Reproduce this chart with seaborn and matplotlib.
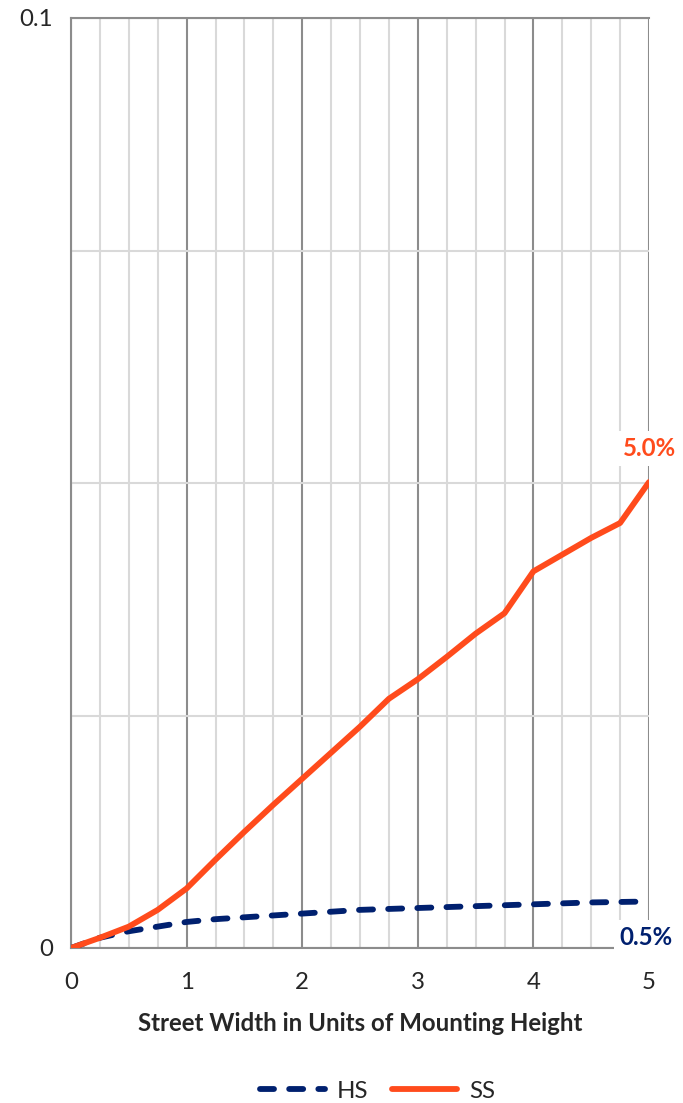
import numpy as np
import pandas as pd
import seaborn as sns
import matplotlib.pyplot as plt
from matplotlib.ticker import MultipleLocator, FixedLocator

# street width in units of mounting height
width = [0, 0.25, 0.5, 0.75, 1, 1.25, 1.5, 1.75, 2, 2.25, 2.5,
         2.75, 3, 3.25, 3.5, 3.75, 4, 4.25, 4.5, 4.75, 5]
hs = [0, 0.0011, 0.0018, 0.0023, 0.0028, 0.0031, 0.0033, 0.0035, 0.0037, 0.0039, 0.0041,
      0.0042, 0.0043, 0.0044, 0.0045, 0.0046, 0.0047, 0.0048, 0.0049, 0.00495, 0.0050]
ss = [0, 0.0011, 0.0023, 0.0041, 0.0064, 0.0095, 0.0125, 0.0154, 0.0182, 0.0210, 0.0238,
      0.0268, 0.0289, 0.0313, 0.0338, 0.0360, 0.0405, 0.0423, 0.0441, 0.0457, 0.0501]
end_labels = {'HS': '0.5%', 'SS': '5.0%'}

HS_COL = '#00206f'
SS_COL = '#ff4b1c'
FS = 17.3

sns.set_style('white')
plt.rcParams['font.family'] = ['Lato', 'DejaVu Sans']

fig = plt.figure(figsize=(6.83, 11.03), dpi=100)
ax = fig.add_axes([71 / 683, 1 - 948 / 1103, 578 / 683, 930 / 1103])

df = pd.DataFrame({'width': width, 'HS': hs, 'SS': ss})

sns.lineplot(data=df, x='width', y='HS', ax=ax, color=HS_COL, lw=4.2,
             linestyle=(0, (2.4, 2.6)), dash_capstyle='round', label='HS', zorder=4)
sns.lineplot(data=df, x='width', y='SS', ax=ax, color=SS_COL, lw=4.2,
             solid_capstyle='round', label='SS', zorder=5)

ax.set_xlim(0, 5)
ax.set_ylim(0, 0.1)

# grid: dark at whole units, light at quarters
ax.xaxis.set_major_locator(MultipleLocator(1))
ax.xaxis.set_minor_locator(MultipleLocator(0.25))
ax.yaxis.set_major_locator(FixedLocator([0, 0.1]))
ax.yaxis.set_minor_locator(FixedLocator([0.025, 0.05, 0.075]))
ax.set_yticklabels(['0', '0.1'])
ax.grid(which='major', color='#8c8c8c', lw=1.5)
ax.grid(which='minor', color='#d9d9d9', lw=1.5)
ax.set_axisbelow(True)

ax.tick_params(axis='x', which='both', direction='out', length=8, width=1.3,
               color='#8c8c8c', labelsize=FS, pad=9)
ax.tick_params(axis='y', which='major', direction='out', length=8, width=1.3,
               color='#8c8c8c', labelsize=FS, pad=5)
ax.tick_params(axis='y', which='minor', length=0)

ax.spines['right'].set_visible(False)
for side in ['left', 'bottom', 'top']:
    ax.spines[side].set_color('#8c8c8c')
    ax.spines[side].set_linewidth(1.5)

ax.set_xlabel('Street Width in Units of Mounting Height', fontsize=FS,
              fontweight='bold', labelpad=14)
ax.set_ylabel('')

ax.annotate(end_labels['SS'], xy=(width[-1], ss[-1]), xytext=(0, 24),
            textcoords='offset points', ha='center', va='center',
            fontsize=FS, fontweight='bold', color=SS_COL, zorder=6,
            bbox=dict(boxstyle='square,pad=0.25', fc='white', ec='none'),
            annotation_clip=False)
ax.annotate(end_labels['HS'], xy=(width[-1], hs[-1]), xytext=(-2, -26),
            textcoords='offset points', ha='center', va='center',
            fontsize=FS, fontweight='bold', color=HS_COL, zorder=6,
            bbox=dict(boxstyle='square,pad=0.25', fc='white', ec='none'),
            annotation_clip=False)

ax.legend(loc='center', bbox_to_anchor=(0.53, (1103 - 1090 - 156) / 930), ncol=2,
          frameon=False, fontsize=FS, handlelength=2.7, columnspacing=1.0,
          handletextpad=0.5)

fig.savefig('out.png', dpi=100)
